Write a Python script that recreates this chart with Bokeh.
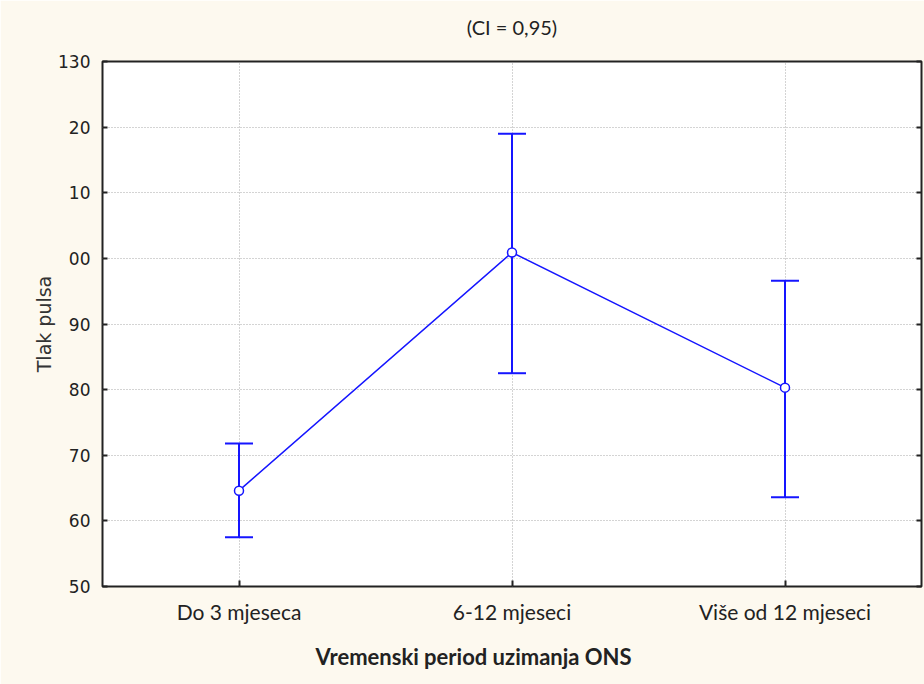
from bokeh.plotting import figure
from bokeh.models import (ColumnDataSource, Whisker, TeeHead, LinearAxis,
                          FixedTicker, Range1d, Title, CustomLabelingPolicy)
from bokeh.embed import file_html
from bokeh.resources import INLINE

categories = ["Do 3 mjeseca", "6-12 mjeseci", "Više od 12 mjeseci"]
means = [64.6, 100.9, 80.3]
upper = [71.8, 119.0, 96.6]
lower = [57.5, 82.5, 63.6]
y_ticks = [50, 60, 70, 80, 90, 100, 110, 120, 130]
y_tick_labels = ["50", "60", "70", "80", "90", "00", "10", "20", "130"]
title_text = "(CI = 0,95)"
x_title = "Vremenski period uzimanja ONS"
y_title = "Tlak pulsa"

xs = list(range(len(categories)))
src = ColumnDataSource(dict(x=xs, mean=means, upper=upper, lower=lower))

BLUE = "#1515ff"
CREAM = "#fdf9ef"
DARK = "#222222"

p = figure(width=924, height=684, output_backend="svg", toolbar_location=None,
           x_range=Range1d(-0.5, len(categories) - 0.5),
           y_range=Range1d(y_ticks[0], y_ticks[-1]),
           min_border_left=102, min_border_top=61, min_border_right=3,
           min_border_bottom=98)

p.background_fill_color = "white"
p.border_fill_color = CREAM
p.outline_line_color = DARK
p.outline_line_width = 2

t = Title(text=title_text, align="center", text_font="Lato",
          text_font_size="20px", text_font_style="normal", text_color=DARK,
          padding=dict(left=0, right=0, top=0, bottom=18))
p.add_layout(t, "above")

# grids
p.xgrid.ticker = FixedTicker(ticks=xs)
p.ygrid.ticker = FixedTicker(ticks=y_ticks)
for g in (p.xgrid, p.ygrid):
    g.grid_line_color = "#a8a8a8"
    g.grid_line_dash = "1 2"
    g.grid_line_width = 1

# x axis
xa = p.xaxis[0]
xa.ticker = FixedTicker(ticks=xs)
xa.major_label_overrides = {i: c for i, c in enumerate(categories)}
xa.major_label_text_font = "Lato"
xa.major_label_text_font_size = "21px"
xa.major_label_text_color = DARK
xa.major_label_standoff = 12
xa.major_tick_in = 6
xa.major_tick_out = 0
xa.minor_tick_line_color = None
xa.major_tick_line_color = DARK
xa.major_tick_line_width = 2
xa.axis_line_color = None

# y axis
ya = p.yaxis[0]
ya.ticker = FixedTicker(ticks=y_ticks)
ya.major_label_overrides = {t: l for t, l in zip(y_ticks, y_tick_labels)}
ya.major_label_text_font = "DejaVu Sans"
ya.major_label_text_font_size = "17px"
ya.major_label_text_color = DARK
ya.major_label_standoff = 12
ya.major_tick_in = 5
ya.major_tick_out = 0
ya.minor_tick_line_color = None
ya.major_tick_line_color = DARK
ya.major_tick_line_width = 2
ya.axis_line_color = None
ya.axis_label = y_title
ya.axis_label_text_font = "DejaVu Sans"
ya.axis_label_text_font_size = "19px"
ya.axis_label_text_font_style = "normal"
ya.axis_label_text_color = "#333333"
ya.axis_label_standoff = 0

# right axis (ticks only, no labels drawn)
ra = LinearAxis(ticker=FixedTicker(ticks=y_ticks),
                major_label_policy=CustomLabelingPolicy(code="return new Set()"),
                major_label_text_font_size="0px",
                major_label_standoff=0,
                major_tick_in=5, major_tick_out=0,
                major_tick_line_color=DARK, major_tick_line_width=2,
                minor_tick_line_color=None, axis_line_color=None)
p.add_layout(ra, "right")

# data
wh = Whisker(source=src, base="x", upper="upper", lower="lower",
             line_color=BLUE, line_width=2,
             upper_head=TeeHead(size=28, line_color=BLUE, line_width=2),
             lower_head=TeeHead(size=28, line_color=BLUE, line_width=2))
p.add_layout(wh)
p.line("x", "mean", source=src, line_color=BLUE, line_width=1.5)
p.scatter("x", "mean", source=src, marker="circle", size=9,
          fill_color="white", line_color=BLUE, line_width=1.5)

# x axis title (as a below title, shifted left as in the reference)
xt = Title(text=x_title, align="left", offset=213, text_font="Lato",
           text_font_size="22px", text_font_style="bold", text_color=DARK,
           standoff=28)
p.add_layout(xt, "below")

open("out.html", "w").write(file_html(p, INLINE))
